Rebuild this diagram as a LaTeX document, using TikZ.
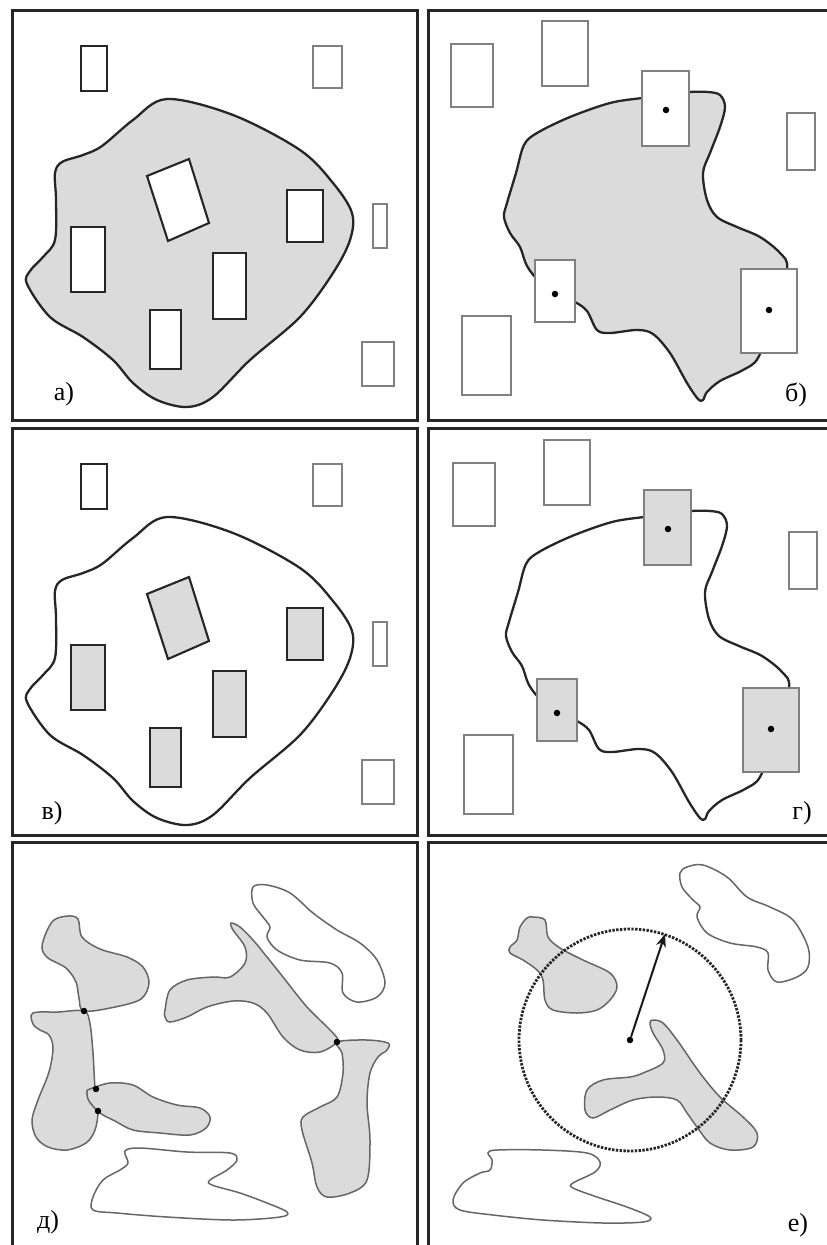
\documentclass[tikz,border=0pt]{standalone}
\usepackage{fontspec}
\setmainfont{Liberation Serif}
\usetikzlibrary{arrows.meta}
\begin{document}
\begin{tikzpicture}[x=1pt,y=-1pt,
  frame/.style={line width=3pt, black!85},
  blobline/.style={line width=2.3pt, black!85},
  inrect/.style={line width=2.1pt, black!85},
  outrect/.style={line width=1.3pt, black!50},
  thinblob/.style={line width=1.5pt, black!60},
  grayfill/.style={fill=black!14},
  lbl/.style={font=\fontsize{26}{26}\selectfont, inner sep=0pt},
  dotn/.style={circle, fill=black, inner sep=0pt, minimum size=6.5pt}
]
\useasboundingbox (0,0) rectangle (827,1245);
\fill[white] (0,0) rectangle (827,1245);

% ---------- frames ----------
\draw[frame] (12,10) rectangle (417,420);
\draw[frame] (428,10) rectangle (840,420);
\draw[frame] (12,428) rectangle (417,835);
\draw[frame] (428,428) rectangle (840,835);
\draw[frame] (12,842) rectangle (417,1260);
\draw[frame] (428,842) rectangle (840,1260);

\def\blobA{(167,99) (233,115) (300,150) (333,183) (352,213) (350,240) (333,273) (300,317) (250,360) (213,397) (187,407) (157,400) (133,383) (113,360) (83,337) (50,317) (27,284) (30,271) (43,257) (55,240) (56,200) (55,173) (62,162) (83,155) (102,146) (133,120)}
\def\blobB{(666,95) (642,98) (610,103) (570,117) (537,133) (524,145) (516,173) (507,203) (504,217) (510,233) (520,247) (527,266) (540,282) (560,295) (575,302) (587,311) (597,330) (610,333) (637,330) (653,334) (670,353) (687,383) (698,399) (703,400) (707,392) (720,381) (743,370) (758,358) (772,320) (787,269) (780,253) (760,237) (737,227) (717,217) (707,200) (703,173) (710,153) (720,127) (725,107) (720,95) (708,92) (689,92)}

% ---------- panel a ----------
\fill[grayfill] plot[smooth cycle, tension=0.55] coordinates {\blobA};
\draw[blobline] plot[smooth cycle, tension=0.55] coordinates {\blobA};
\draw[inrect, fill=white] (147,176) -- (189,159) -- (209,223) -- (168,241) -- cycle;
\draw[inrect, fill=white] (287,190) rectangle (323,242);
\draw[inrect, fill=white] (71,227) rectangle (105,292);
\draw[inrect, fill=white] (213,253) rectangle (246,319);
\draw[inrect, fill=white] (150,310) rectangle (181,369);
\draw[inrect, line width=1.7pt] (81,46) rectangle (107,91);
\draw[outrect] (313,46) rectangle (342,88);
\draw[outrect] (373,204) rectangle (387,248);
\draw[outrect] (362,342) rectangle (394,386);
\node[lbl] (la) at (64,394) {а)};

% ---------- panel v ----------
\begin{scope}[shift={(0,418)}]
\draw[blobline] plot[smooth cycle, tension=0.55] coordinates {\blobA};
\draw[inrect, grayfill] (147,176) -- (189,159) -- (209,223) -- (168,241) -- cycle;
\draw[inrect, grayfill] (287,190) rectangle (323,242);
\draw[inrect, grayfill] (71,227) rectangle (105,292);
\draw[inrect, grayfill] (213,253) rectangle (246,319);
\draw[inrect, grayfill] (150,310) rectangle (181,369);
\draw[inrect, line width=1.7pt] (81,46) rectangle (107,91);
\draw[outrect] (313,46) rectangle (342,88);
\draw[outrect] (373,204) rectangle (387,248);
\draw[outrect] (362,342) rectangle (394,386);
\node[lbl] (lv) at (52,395) {в)};
\end{scope}

% ---------- panel b ----------
\fill[grayfill] plot[smooth cycle, tension=0.55] coordinates {\blobB};
\draw[blobline] plot[smooth cycle, tension=0.55] coordinates {\blobB};
\draw[outrect] (451,44) rectangle (493,107);
\draw[outrect] (542,21) rectangle (588,86);
\draw[outrect] (787,113) rectangle (815,170);
\draw[outrect] (462,316) rectangle (511,395);
\draw[outrect, fill=white] (642,71) rectangle (689,146);
\draw[outrect, fill=white] (535,260) rectangle (575,322);
\draw[outrect, fill=white] (741,269) rectangle (797,353);
\node[dotn] (b1) at (666,110) {};
\node[dotn] (b2) at (555,294) {};
\node[dotn] (b3) at (769,310) {};
\node[lbl] (lb) at (796,395) {б)};

% ---------- panel g ----------
\begin{scope}[shift={(2,419)}]
\draw[blobline] plot[smooth cycle, tension=0.55] coordinates {\blobB};
\draw[outrect] (451,44) rectangle (493,107);
\draw[outrect] (542,21) rectangle (588,86);
\draw[outrect] (787,113) rectangle (815,170);
\draw[outrect] (462,316) rectangle (511,395);
\draw[outrect, grayfill] (642,71) rectangle (689,146);
\draw[outrect, grayfill] (535,260) rectangle (575,322);
\draw[outrect, grayfill] (741,269) rectangle (797,353);
\node[dotn] (g1) at (666,110) {};
\node[dotn] (g2) at (555,294) {};
\node[dotn] (g3) at (769,310) {};
\node[lbl] (lg) at (800,394) {г)};
\end{scope}

% ---------- panel d ----------
\draw[thinblob, grayfill] plot[smooth cycle, tension=0.55] coordinates {(68,916) (78,919) (82,937) (100,949) (127,957) (143,967) (149,983) (141,999) (115,1007) (84,1011) (79,998) (76,982) (66,968) (48,958) (42,948) (46,933) (54,920)};
\draw[thinblob, grayfill] plot[smooth cycle, tension=0.55] coordinates {(33,1013) (58,1012) (84,1011) (90,1024) (93,1053) (95,1088) (98,1111) (95,1130) (86,1143) (67,1150) (48,1147) (36,1137) (32,1120) (38,1100) (49,1072) (53,1048) (49,1035) (40,1030) (33,1024)};
\draw[thinblob, grayfill] plot[smooth cycle, tension=0.55] coordinates {(90,1089) (110,1083) (133,1085) (153,1097) (177,1105) (200,1108) (210,1117) (206,1128) (190,1135) (160,1133) (133,1130) (115,1121) (100,1113) (89,1101) (87,1092)};
\draw[thinblob, grayfill] plot[smooth cycle, tension=0.55] coordinates {(165,1010) (170,990) (187,980) (213,977) (230,977) (245,963) (245,947) (233,930) (231,923) (240,927) (253,940) (267,957) (283,977) (307,1007) (333,1033) (337,1042) (320,1052) (300,1050) (283,1037) (267,1013) (253,1003) (233,1001) (207,1007) (187,1017) (170,1022) (165,1017)};
\draw[thinblob, grayfill] plot[smooth cycle, tension=0.55] coordinates {(337,1042) (367,1040) (388,1043) (387,1050) (378,1057) (370,1073) (367,1103) (370,1140) (367,1180) (350,1193) (327,1197) (317,1187) (312,1163) (302,1130) (303,1117) (320,1107) (337,1097) (343,1073) (342,1053)};
\draw[thinblob] plot[smooth cycle, tension=0.55] coordinates {(253,887) (267,885) (290,893) (313,913) (337,930) (360,943) (377,960) (385,983) (377,997) (357,1002) (343,993) (342,973) (330,963) (300,960) (277,950) (267,937) (270,927) (263,917) (253,903)};
\draw[thinblob] plot[smooth cycle, tension=0.55] coordinates {(125,1151) (140,1148) (187,1152) (230,1153) (237,1160) (227,1170) (210,1180) (212,1185) (240,1193) (267,1203) (287,1212) (280,1217) (233,1220) (167,1217) (117,1213) (93,1210) (93,1197) (103,1180) (120,1170) (128,1163)};
\node[dotn] (d1) at (84,1011) {};
\node[dotn] (d2) at (96,1089) {};
\node[dotn] (d3) at (98,1111) {};
\node[dotn] (d4) at (337,1042) {};
\node[lbl] (ld) at (48,1222) {д)};

% ---------- panel e ----------
\draw[thinblob, grayfill] plot[smooth cycle, tension=0.55] coordinates {(533,917) (545,920) (548,937) (560,948) (583,960) (610,973) (617,987) (610,1000) (597,1010) (577,1013) (553,1010) (545,1000) (543,980) (537,970) (523,960) (510,953) (510,947) (517,940) (520,927) (527,918)};
\draw[thinblob, grayfill] plot[smooth cycle, tension=0.55] coordinates {(653,1020) (663,1023) (677,1040) (700,1073) (720,1097) (743,1117) (757,1133) (753,1147) (730,1150) (710,1143) (697,1127) (687,1113) (677,1100) (657,1097) (633,1100) (610,1110) (593,1118) (585,1110) (587,1090) (603,1080) (630,1077) (643,1073) (663,1063) (663,1050) (653,1033) (650,1023)};
\draw[thinblob] plot[smooth cycle, tension=0.55] coordinates {(687,867) (703,865) (727,877) (747,897) (770,907) (793,920) (808,947) (808,967) (797,977) (777,982) (768,970) (768,953) (757,947) (730,943) (707,933) (697,917) (700,907) (693,900) (682,887) (680,873)};
\draw[thinblob] plot[smooth cycle, tension=0.55] coordinates {(488,1153) (497,1150) (543,1150) (587,1153) (600,1162) (595,1172) (573,1183) (573,1188) (597,1197) (627,1207) (650,1217) (643,1222) (603,1223) (543,1220) (493,1215) (460,1210) (453,1200) (463,1183) (480,1173) (490,1170) (492,1160)};
\draw[line width=2.8pt, black!85, dash pattern=on 2.4pt off 1.4pt] (630,1040) circle[radius=111];
\node[dotn] (ec) at (630,1040) {};
\coordinate (et) at (665,934);
\draw[line width=2pt, black!90, -{Stealth[length=13pt,width=10pt]}] (ec) -- (et);
\node[lbl] (le) at (798,1225) {е)};
\end{tikzpicture}
\end{document}
